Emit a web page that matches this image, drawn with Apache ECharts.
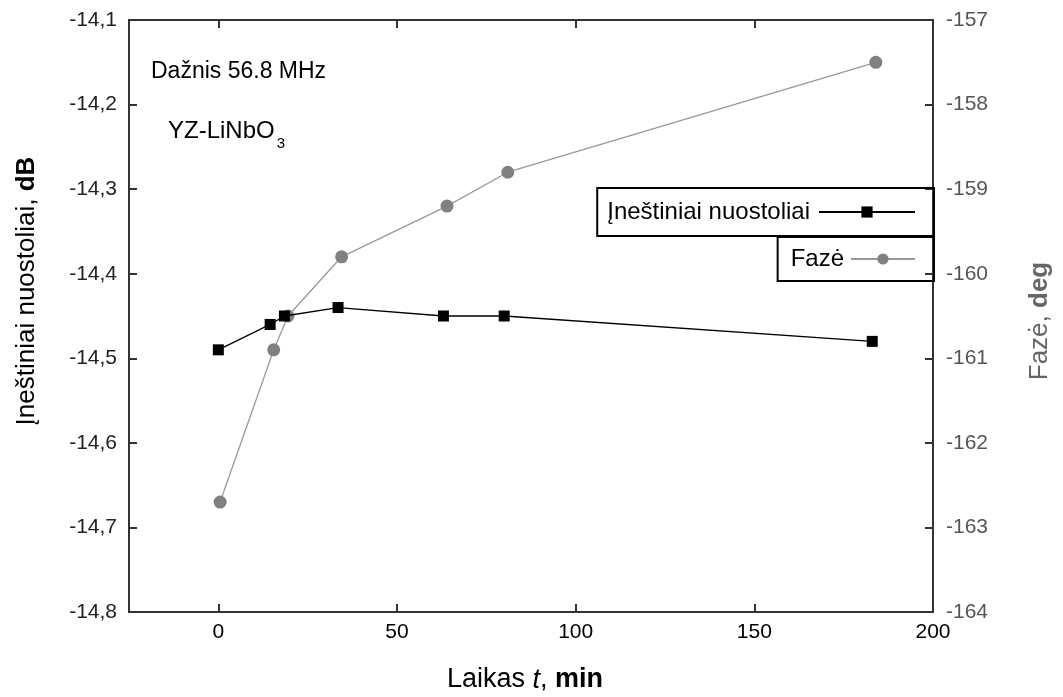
<!DOCTYPE html>
<html>
<head>
<meta charset="utf-8">
<script src="https://cdn.jsdelivr.net/npm/echarts@6/dist/echarts.min.js"></script>
<style>
html,body{margin:0;padding:0;background:#fff;}
#chart{width:1063px;height:697px;}
</style>
</head>
<body>
<div id="chart"></div>
<script>
// ---- data ----
var lossTime   = [0, 14.5, 18.5, 33.5, 63, 80, 183];
var lossValues = [-14.49, -14.46, -14.45, -14.44, -14.45, -14.45, -14.48];
var phaseTime   = [0.5, 15.5, 19.5, 34.5, 64, 81, 184];
var phaseValues = [-162.7, -160.9, -160.5, -159.8, -159.2, -158.8, -157.5];
var xTicks = [0, 50, 100, 150, 200];
var lossName = 'Įneštiniai nuostoliai';
var phaseName = 'Fazė';

function pairs(xs, ys){ return xs.map(function(x,i){ return [x, ys[i]]; }); }

var font = '"Liberation Sans", Arial, sans-serif';
var axisLineStyle = {color:'#333', width:2};

var chart = echarts.init(document.getElementById('chart'), null, {renderer:'canvas'});
chart.setOption({
  animation:false,
  backgroundColor:'#fff',
  textStyle:{fontFamily:font},
  grid:{left:129, right:130, top:20, bottom:85, containLabel:false},
  legend:[
    {
      data:[lossName], right:129, top:188, align:'right',
      borderColor:'#000', borderWidth:2, padding:[12,18,12,10],
      itemWidth:96, itemHeight:14, itemGap:0,
      textStyle:{fontFamily:font, fontSize:24, color:'#000', padding:[0,4,0,0]}
    },
    {
      data:[phaseName], right:129, top:237, align:'right',
      borderColor:'#000', borderWidth:2, padding:[10,18,10,13],
      itemWidth:64, itemHeight:14, itemGap:0,
      textStyle:{fontFamily:font, fontSize:24, color:'#000', padding:[0,2,0,0]}
    }
  ],
  xAxis:[
    {
      type:'value', min:-25, max:200, position:'bottom',
      axisLine:{show:true, onZero:false, lineStyle:axisLineStyle},
      axisTick:{show:true, inside:true, length:8, lineStyle:axisLineStyle, customValues:xTicks},
      axisLabel:{customValues:xTicks, fontFamily:font, fontSize:21, color:'#000', margin:10},
      splitLine:{show:false}
    },
    {
      type:'value', min:-25, max:200, position:'top',
      axisLine:{show:true, onZero:false, lineStyle:axisLineStyle},
      axisTick:{show:true, inside:true, length:8, lineStyle:axisLineStyle, customValues:xTicks},
      axisLabel:{show:false},
      splitLine:{show:false}
    }
  ],
  yAxis:[
    {
      type:'value', min:-14.8, max:-14.1, interval:0.1, position:'left',
      axisLine:{show:true, onZero:false, lineStyle:axisLineStyle},
      axisTick:{show:true, inside:true, length:8, lineStyle:axisLineStyle},
      axisLabel:{fontFamily:font, fontSize:21, color:'#222', margin:12,
        formatter:function(v){ return v.toFixed(1).replace('.', ','); }},
      splitLine:{show:false}
    },
    {
      type:'value', min:-164, max:-157, interval:1, position:'right',
      axisLine:{show:true, onZero:false, lineStyle:axisLineStyle},
      axisTick:{show:true, inside:true, length:8, lineStyle:axisLineStyle},
      axisLabel:{fontFamily:font, fontSize:21, color:'#555', margin:13},
      splitLine:{show:false}
    }
  ],
  graphic:[
    {type:'text', left:151, top:60, style:{text:'Dažnis 56.8 MHz', fontFamily:font, fontSize:23, fill:'#000'}},
    {type:'text', left:168, top:119, style:{
      text:'{m|YZ-LiNbO}{s|3}',
      rich:{
        m:{fontFamily:font, fontSize:24, lineHeight:40, fill:'#000', padding:[0,2,0,0]},
        s:{fontFamily:font, fontSize:15, lineHeight:15, verticalAlign:'bottom', fill:'#000'}
      }
    }},
    {type:'text', x:27, y:291, rotation:Math.PI/2, style:{
      text:'{n|Įneštiniai nuostoliai, }{b|dB}', align:'center', verticalAlign:'middle',
      rich:{
        n:{fontFamily:font, fontSize:26, fill:'#000'},
        b:{fontFamily:font, fontSize:26, fill:'#000', fontWeight:'bold'}
      }
    }},
    {type:'text', x:1040, y:321, rotation:Math.PI/2, style:{
      text:'{n|Fazė, }{b|deg}', align:'center', verticalAlign:'middle',
      rich:{
        n:{fontFamily:font, fontSize:26, fill:'#666'},
        b:{fontFamily:font, fontSize:26, fill:'#666', fontWeight:'bold'}
      }
    }},
    {type:'text', x:525, y:680, style:{
      text:'{n|Laikas }{i|t}{n|, }{b|min}', align:'center', verticalAlign:'middle',
      rich:{
        n:{fontFamily:font, fontSize:27, fill:'#000'},
        i:{fontFamily:font, fontSize:27, fill:'#000', fontStyle:'italic'},
        b:{fontFamily:font, fontSize:27, fill:'#000', fontWeight:'bold'}
      }
    }}
  ],
  series:[
    {
      name:lossName, type:'line', xAxisIndex:0, yAxisIndex:0,
      data:pairs(lossTime, lossValues),
      symbol:'rect', symbolSize:11,
      itemStyle:{color:'#000'},
      lineStyle:{color:'#000', width:1.3},
      z:3
    },
    {
      name:phaseName, type:'line', xAxisIndex:0, yAxisIndex:1,
      data:pairs(phaseTime, phaseValues),
      symbol:'circle', symbolSize:13,
      itemStyle:{color:'#808080'},
      lineStyle:{color:'#999', width:1.3},
      z:2
    }
  ]
});
</script>
</body>
</html>
